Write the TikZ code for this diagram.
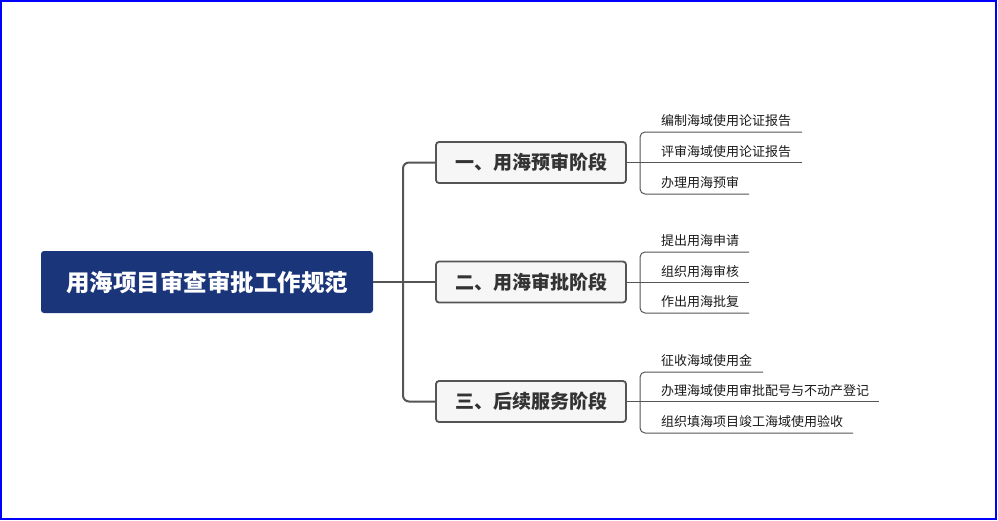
\documentclass[tikz,border=0pt]{standalone}
\usepackage{fontspec}
\newfontfamily\cjk{Noto Sans CJK SC}
\definecolor{rootblue}{HTML}{1A357A}
\definecolor{linegray}{HTML}{555555}
\definecolor{stagefill}{HTML}{F6F6F6}
\definecolor{textdark}{HTML}{333333}
\definecolor{frameblue}{HTML}{0000FF}
\begin{document}
\begin{tikzpicture}[x=1pt,y=-1pt,
  rootbox/.style={fill=rootblue, rounded corners=3pt, minimum width=332pt, minimum height=62pt, inner sep=0pt, text=white, font=\cjk\bfseries\fontsize{23.5}{28}\selectfont},
  stagebox/.style={draw=linegray, line width=1.8pt, fill=stagefill, rounded corners=3pt, minimum width=190pt, minimum height=41pt, inner sep=0pt, text=textdark, font=\cjk\bfseries\fontsize{19}{22}\selectfont},
  leaftext/.style={anchor=base west, inner sep=0pt, text=black!90, font=\cjk\fontsize{13}{15}\selectfont},
  mainconn/.style={draw=linegray, line width=2pt},
  rootconn/.style={draw=linegray, line width=2.6pt},
  leafconn/.style={draw=linegray, line width=1pt}
]
\useasboundingbox (0,0) rectangle (998,520);
\draw[frameblue, line width=2pt] (1,1) rectangle (996,518.5);

% root and stages
\node[rootbox] (root) at (207,282) {用海项目审查审批工作规范};
\node[stagebox] (s1) at (531,162.5) {一、用海预审阶段};
\node[stagebox] (s2) at (531,282) {二、用海审批阶段};
\node[stagebox] (s3) at (531,401.5) {三、后续服务阶段};

\coordinate (hub) at (403,282);
\draw[rootconn] (root.east) -- (hub);
\draw[mainconn, rounded corners=6pt] (s1.west) -- (hub |- s1.west) -- (hub |- s3.west) -- (s3.west);
\draw[mainconn] (hub) -- (s2.west);

% group 1
\coordinate (b1) at (640,0);
\coordinate (e11) at (802,132);
\coordinate (e12) at (802,162.5);
\coordinate (e13) at (749,194);
\node[leaftext] (l11) at (661,125) {编制海域使用论证报告};
\node[leaftext] (l12) at (661,156) {评审海域使用论证报告};
\node[leaftext] (l13) at (661,187) {办理用海预审};
\draw[leafconn, rounded corners=5pt] (e11) -- (b1 |- e11) -- (b1 |- e13) -- (e13);
\draw[leafconn] (s1.east) -- (e12);

% group 2
\coordinate (b2) at (640,0);
\coordinate (e21) at (749,252);
\coordinate (e22) at (749,282);
\coordinate (e23) at (749,313);
\node[leaftext] (l21) at (661,245) {提出用海申请};
\node[leaftext] (l22) at (661,276) {组织用海审核};
\node[leaftext] (l23) at (661,306) {作出用海批复};
\draw[leafconn, rounded corners=5pt] (e21) -- (b2 |- e21) -- (b2 |- e23) -- (e23);
\draw[leafconn] (s2.east) -- (e22);

% group 3
\coordinate (b3) at (640,0);
\coordinate (e31) at (763,372);
\coordinate (e32) at (879,401.5);
\coordinate (e33) at (853,433);
\node[leaftext] (l31) at (661,365) {征收海域使用金};
\node[leaftext] (l32) at (661,395) {办理海域使用审批配号与不动产登记};
\node[leaftext] (l33) at (661,426) {组织填海项目竣工海域使用验收};
\draw[leafconn, rounded corners=5pt] (e31) -- (b3 |- e31) -- (b3 |- e33) -- (e33);
\draw[leafconn] (s3.east) -- (e32);
\end{tikzpicture}
\end{document}
